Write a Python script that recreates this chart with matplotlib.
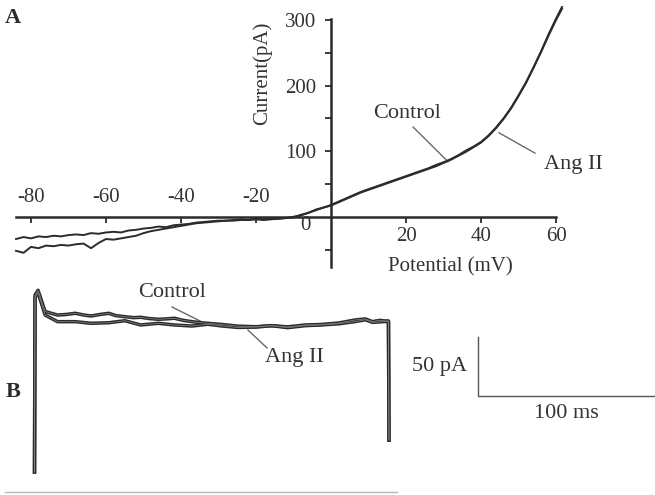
import matplotlib
matplotlib.use("Agg")
import matplotlib.pyplot as plt

plt.rcParams["font.family"] = ["Liberation Serif", "DejaVu Serif"]

INK = "#2b2b2b"
TXT = "#333333"
LEAD = "#6a6a6a"

# ---- panel A: I-V ramp (mV, pA) ----
v_neg = [-84, -82, -80, -78, -76, -74, -72, -70, -68, -66, -64, -62, -60, -58, -56,
         -54, -52, -50, -48, -46, -44, -42, -40, -38, -36, -34, -32, -30, -28, -26,
         -24, -22, -20, -18, -16, -14, -12, -10, -8, -6, -4, -2, 0]
i_ctrl_neg = [-34, -31, -33, -30, -31, -29, -30, -28, -27, -28, -25, -26, -24, -23, -24,
              -21, -20, -18, -17, -15, -16, -13, -12, -11, -9, -8, -7, -6, -6, -5,
              -4, -5, -3, -4, -3, -3, -2, 0, 2, 6, 10, 14, 18]
i_ang_neg = [-52, -55, -46, -48, -44, -45, -43, -44, -42, -41, -48, -40, -34, -35, -33,
             -31, -29, -25, -22, -20, -18, -16, -14, -12, -10, -9, -8, -7, -6, -6,
             -5, -5, -4, -5, -4, -3, -2, -1, 3, 6, 11, 14, 17]

v_pos = [2, 4, 6, 8, 10, 12, 14, 16, 18, 20, 22, 24, 26, 28, 30, 32, 34, 36, 38, 40,
         42, 44, 46, 48, 50, 52, 54, 56, 58, 60, 61.6]
i_ctrl_pos = [23, 28, 33, 38, 42, 46, 50, 54, 58, 62, 66, 70, 74, 79, 83, 88, 94, 101,
              107, 114, 124, 136, 150, 166, 185, 205, 228, 252, 278, 302, 320]
i_ang_pos = [22, 27, 32, 37, 41, 45, 49, 53, 57, 61, 65, 69, 73, 77, 82, 87, 93, 99,
             106, 113, 123, 135, 149, 165, 184, 204, 227, 251, 276, 300, 317]

x_ticks_neg = [-80, -60, -40, -20]
x_ticks_pos = [20, 40, 60]
y_ticks = [100, 200, 300]
y_minor = [-50, 50, 150, 250]

# ---- panel B: current traces during a 200 ms step (ms, pA) ----
t_ctrl = [0, 0.3, 2, 6, 13, 18, 23, 28, 32, 37, 42, 46, 51, 56, 60, 65, 70, 75, 79, 84,
          89, 94, 98, 106, 115, 125, 134, 143, 153, 162, 172, 181, 187, 191, 195, 198,
          200, 200.3]
i_ctrl_b = [0, 150, 154, 136, 133, 133.5, 134.5, 133, 132.2, 133.5, 134.5, 132.5, 131.6,
            130.8, 131.1, 130, 129.4, 129.8, 130.3, 128.5, 127.4, 126.5, 126, 125, 123.6,
            123.1, 124, 123, 124.6, 125, 126.3, 128.8, 129.7, 127.4, 128.5, 128, 128, 27]
t_ang = [0, 0.3, 2, 6, 13, 23, 32, 42, 51, 60, 70, 79, 89, 98, 106, 115, 125, 134, 143,
         153, 162, 172, 181, 187, 191, 198, 200, 200.3]
i_ang_b = [0, 148, 152, 133, 127.4, 127.4, 126, 126.5, 128.2, 124.6, 126, 124.6, 123.7,
           125.2, 123.7, 122.5, 122.8, 124, 122.3, 124, 124.6, 125.6, 127.4, 129, 126.8,
           127.5, 127.5, 27]

SCALE_PA = 50
SCALE_MS = 100

W, H = 655, 495
fig = plt.figure(figsize=(W / 100, H / 100), dpi=100)


def rect(x0, y0, x1, y1):
    # pixel box (top-left origin) -> figure fraction
    return [x0 / W, 1 - y1 / H, (x1 - x0) / W, (y1 - y0) / H]


# ================= A =================
axA = fig.add_axes(rect(10.4, 5.6, 578.5, 265.9))
axA.set_xlim(-85.5, 66)
axA.set_ylim(-75, 322)
for s in ("top", "right"):
    axA.spines[s].set_visible(False)
axA.spines["left"].set_position(("data", 0))
axA.spines["bottom"].set_position(("data", 0))
axA.spines["left"].set_bounds(-77, 302)
axA.spines["bottom"].set_bounds(-84, 60)
for s in ("left", "bottom"):
    axA.spines[s].set_linewidth(1.8)
    axA.spines[s].set_color(INK)

axA.set_xticks(x_ticks_neg + x_ticks_pos)
axA.set_xticklabels([])
axA.tick_params(axis="x", direction="out", length=4, width=1.3, color=INK)
axA.set_yticks(y_ticks)
axA.set_yticks(y_minor, minor=True)
axA.tick_params(axis="y", which="both", direction="out", length=4.5, width=1.3,
                color=INK, labelsize=15, labelcolor=TXT, pad=6)
axA.set_yticklabels([str(v) for v in y_ticks])

for v in x_ticks_neg:
    axA.text(v, 30, str(v), ha="center", va="center", fontsize=15, color=TXT)
for v in x_ticks_pos:
    axA.text(v, -30, str(v), ha="center", va="center", fontsize=15, color=TXT)
axA.text(-6.9, -13, "0", ha="center", va="center", fontsize=15, color=TXT)

axA.text(-18.4, 219, "Current(pA)", rotation=90, ha="center", va="center",
         fontsize=15, color=TXT)
axA.text(31.7, -77, "Potential (mV)", ha="center", va="center", fontsize=15,
         color=TXT, clip_on=False)

axA.plot(v_neg + v_pos, i_ctrl_neg + i_ctrl_pos, color=INK, lw=1.4, zorder=3)
axA.plot(v_neg + v_pos, i_ang_neg + i_ang_pos, color=INK, lw=1.4, zorder=3)

axA.text(20.3, 158, "Control", ha="center", va="center", fontsize=16, color=TXT)
axA.plot([21.9, 31.2], [136.7, 84], color=LEAD, lw=1)
axA.text(64.5, 79, "Ang II", ha="center", va="center", fontsize=16, color=TXT,
         clip_on=False)
axA.plot([54.4, 44.8], [97, 128], color=LEAD, lw=1)

# ================= B =================
axB = fig.add_axes(rect(0, 280, 655, 495))
axB.set_xlim(-19.5, 350.6)
axB.set_ylim(-19.5, 162.7)
axB.axis("off")

for t, i in ((t_ctrl, i_ctrl_b), (t_ang, i_ang_b)):
    axB.plot(t, i, color=INK, lw=2.5, zorder=3)
    axB.plot(t, i, color="#8a8a8a", lw=0.5, zorder=4)

axB.text(78, 151.7, "Control", ha="center", va="center", fontsize=16, color=TXT)
axB.plot([77.7, 93.5], [139.8, 128], color=LEAD, lw=1)
axB.text(147, 96.6, "Ang II", ha="center", va="center", fontsize=16, color=TXT)
axB.plot([131.4, 120.6], [105.1, 120.3], color=LEAD, lw=1)

# scale bar
bx, by = 250.5, 64.4
axB.plot([bx, bx, bx + SCALE_MS], [by + SCALE_PA, by, by], color="#555555", lw=1,
         clip_on=False)
axB.text(bx - 6, by + SCALE_PA / 2, f"{SCALE_PA} pA", ha="right", va="center",
         fontsize=16, color=TXT)
axB.text(bx + SCALE_MS / 2, by - 15, f"{SCALE_MS} ms", ha="center", va="center",
         fontsize=16, color=TXT)

axB.axhline(-16.9, xmin=0.008, xmax=0.606, color="#bbbbbb", lw=1)

fig.text(13 / W, 1 - 18 / H, "A", ha="center", va="center", fontsize=16,
         fontweight="bold", color=INK)
fig.text(13 / W, 1 - 392 / H, "B", ha="center", va="center", fontsize=16,
         fontweight="bold", color=INK)

fig.savefig("out.png", dpi=100)
